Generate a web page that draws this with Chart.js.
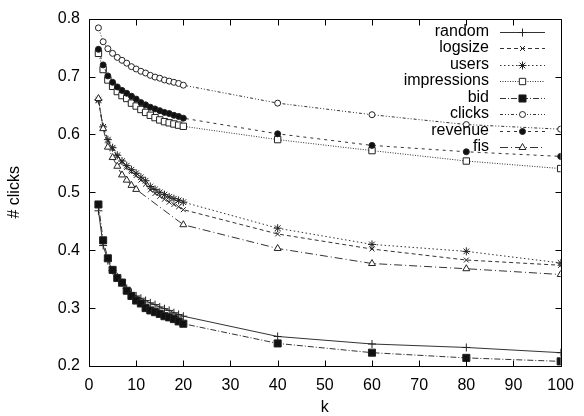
<!DOCTYPE html>
<html>
<head>
<meta charset="utf-8">
<script src="https://cdn.jsdelivr.net/npm/chart.js@4/dist/chart.umd.min.js"></script>
<style>
html,body{margin:0;padding:0;background:#fff;}
#wrap{width:584px;height:416px;}
</style>
</head>
<body>
<div id="wrap"><canvas id="c" width="584" height="416"></canvas></div>
<script>
const K = [2,3,4,5,6,7,8,9,10,11,12,13,14,15,16,17,18,19,20,40,60,80,100];
const K_FIS = [2,3,4,5,6,7,8,9,10,20,40,60,80,100];

const random = [0.468,0.408,0.382,0.365,0.354,0.344,0.334,0.327,0.321,0.317,0.313,0.309,0.306,0.302,0.299,0.296,0.292,0.289,0.286,0.251,0.238,0.232,0.223];
const logsize = [0.658,0.611,0.589,0.575,0.562,0.552,0.543,0.536,0.529,0.521,0.514,0.504,0.498,0.493,0.488,0.483,0.479,0.475,0.470,0.428,0.402,0.383,0.374];
const users = [0.660,0.613,0.591,0.577,0.564,0.554,0.546,0.539,0.533,0.526,0.520,0.510,0.505,0.500,0.496,0.492,0.489,0.486,0.483,0.438,0.410,0.398,0.378];
const impressions = [0.740,0.712,0.694,0.683,0.674,0.667,0.662,0.654,0.649,0.643,0.638,0.633,0.629,0.625,0.622,0.620,0.618,0.616,0.614,0.591,0.572,0.554,0.541];
const bid = [0.479,0.417,0.386,0.366,0.352,0.344,0.330,0.321,0.313,0.308,0.300,0.296,0.293,0.290,0.286,0.284,0.281,0.277,0.273,0.239,0.223,0.214,0.208];
const clicks = [0.784,0.760,0.748,0.740,0.733,0.728,0.723,0.717,0.713,0.709,0.706,0.702,0.699,0.697,0.694,0.692,0.690,0.688,0.685,0.654,0.634,0.617,0.609];
const revenue = [0.747,0.720,0.701,0.690,0.682,0.676,0.671,0.666,0.661,0.655,0.651,0.647,0.644,0.641,0.638,0.636,0.633,0.631,0.628,0.601,0.581,0.570,0.562];
const fis = [0.662,0.610,0.578,0.560,0.545,0.530,0.521,0.512,0.505,0.444,0.403,0.377,0.368,0.358];

const X_TICKS = [0,10,20,30,40,50,60,70,80,90,100];
const Y_TICKS = [0.2,0.3,0.4,0.5,0.6,0.7,0.8];

const FONT = "'Liberation Sans', Arial, Helvetica, sans-serif";
const INK = '#000';
const LINE = '#333';

function pts(xs, ys){ return xs.map((x,i)=>({x:x, y:ys[i]})); }

const styles = [
  {label:'random', x:K, y:random, dash:[], ps:'cross', r:4, fill:false},
  {label:'logsize', x:K, y:logsize, dash:[4,3], ps:'crossRot', r:3.5, fill:false},
  {label:'users', x:K, y:users, dash:[1.5,2.5], ps:'star', r:4, fill:false},
  {label:'impressions', x:K, y:impressions, dash:[1,1.5], ps:'rect', r:4.5, fill:false},
  {label:'bid', x:K, y:bid, dash:[6,2,1,2], ps:'rect', r:5, fill:true},
  {label:'clicks', x:K, y:clicks, dash:[3,2,1,2,1,2], ps:'circle', r:3, fill:false},
  {label:'revenue', x:K, y:revenue, dash:[3,4], ps:'circle', r:3, fill:true},
  {label:'fis', x:K_FIS, y:fis, dash:[8,3,1,3], ps:'triangle', r:4, fill:false}
];

const datasets = styles.map((s,i)=>({
  label: s.label,
  data: pts(s.x, s.y),
  borderColor: LINE,
  borderWidth: 1,
  borderDash: s.dash,
  pointStyle: s.ps,
  pointRadius: s.r,
  pointBorderColor: '#222',
  pointBorderWidth: 1,
  pointBackgroundColor: s.fill ? '#111' : '#fff',
  fill: false,
  tension: 0,
  order: styles.length - i
}));

const framePlugin = {
  id: 'frame',
  afterDraw(chart){
    const ctx = chart.ctx;
    const a = chart.chartArea;
    const xs = chart.scales.x, ys = chart.scales.y;
    ctx.save();
    ctx.strokeStyle = INK;
    ctx.lineWidth = 1;
    ctx.setLineDash([]);
    const L = Math.round(a.left)+0.5, R = Math.round(a.right)+0.5;
    const T = Math.round(a.top)+0.5, B = Math.round(a.bottom)+0.5;
    ctx.beginPath();
    ctx.rect(L, T, R-L, B-T);
    ctx.stroke();
    const tl = 6;
    ctx.beginPath();
    X_TICKS.forEach(v=>{
      const px = Math.round(xs.getPixelForValue(v))+0.5;
      ctx.moveTo(px, B); ctx.lineTo(px, B - tl);
      ctx.moveTo(px, T); ctx.lineTo(px, T + tl);
    });
    Y_TICKS.forEach(v=>{
      const py = Math.round(ys.getPixelForValue(v))+0.5;
      ctx.moveTo(L, py); ctx.lineTo(L + tl, py);
      ctx.moveTo(R, py); ctx.lineTo(R - tl, py);
    });
    ctx.stroke();

    // legend (gnuplot style: text right-aligned, sample on right)
    const textRight = 489, sx0 = 500, sx1 = 545, y0 = 31.5, dy = 16.5;
    ctx.font = "16px " + FONT;
    ctx.textAlign = 'right';
    ctx.textBaseline = 'middle';
    chart.data.datasets.forEach((ds, i)=>{
      const y = y0 + i*dy;
      ctx.fillStyle = INK;
      ctx.fillText(ds.label, textRight, y);
      ctx.strokeStyle = ds.borderColor;
      ctx.lineWidth = ds.borderWidth;
      ctx.setLineDash(ds.borderDash);
      ctx.beginPath();
      ctx.moveTo(sx0, Math.round(y)+0.5);
      ctx.lineTo(sx1, Math.round(y)+0.5);
      ctx.stroke();
      ctx.setLineDash([]);
      ctx.strokeStyle = ds.pointBorderColor;
      ctx.fillStyle = ds.pointBackgroundColor;
      ctx.lineWidth = ds.pointBorderWidth;
      Chart.helpers.drawPoint(ctx, {pointStyle: ds.pointStyle, radius: ds.pointRadius, rotation: 0, borderWidth: 1}, (sx0+sx1)/2, Math.round(y)+0.5);
    });
    ctx.restore();
  }
};

new Chart(document.getElementById('c'), {
  type: 'line',
  data: { datasets },
  options: {
    responsive: false,
    animation: false,
    devicePixelRatio: 1,
    layout: { padding: { top: 17, right: 19, left: 0, bottom: 0 } },
    plugins: { legend: { display: false }, tooltip: { enabled: false } },
    scales: {
      x: {
        type: 'linear', min: 0, max: 100,
        afterBuildTicks(s){ s.ticks = X_TICKS.map(v=>({value:v})); },
        afterFit(s){ s.height = 50; },
        grid: { display: false, drawTicks: false },
        border: { display: false },
        ticks: { color: INK, font: { family: FONT, size: 16 }, padding: 10, maxRotation: 0,
                 callback: v => String(v) },
        title: { display: true, text: 'k', color: INK, font: { family: FONT, size: 16, lineHeight: 1.0 }, padding: { top: 0, bottom: 0 } }
      },
      y: {
        type: 'linear', min: 0.2, max: 0.8,
        afterBuildTicks(s){ s.ticks = Y_TICKS.map(v=>({value:v})); },
        afterFit(s){ s.width = 89; },
        grid: { display: false, drawTicks: false },
        border: { display: false },
        ticks: { color: INK, font: { family: FONT, size: 16 }, padding: 9,
                 callback: v => v.toFixed(1) },
        title: { display: true, text: '# clicks', color: INK, font: { family: FONT, size: 16 }, padding: { top: 5, bottom: 0 } }
      }
    }
  },
  plugins: [framePlugin]
});
</script>
</body>
</html>
